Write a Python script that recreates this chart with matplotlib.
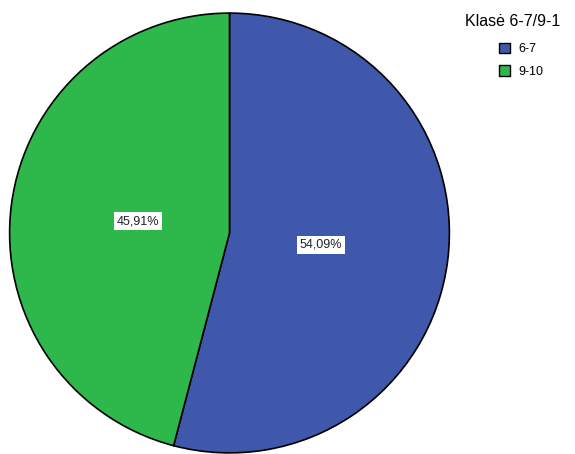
import matplotlib.pyplot as plt
from matplotlib.patches import Patch

plt.rcParams["font.family"] = ["Liberation Sans", "DejaVu Sans"]

labels = ["6-7", "9-10"]
shares = [54.09, 45.91]
colors = ["#3f58ab", "#2eb84b"]
legend_title = "Klasė 6-7/9-1"


def pct(v):
    return "{:.2f}%".format(v).replace(".", ",")


fig = plt.figure(figsize=(5.75, 4.54), dpi=100)
ax = fig.add_axes([8.5 / 575, 0.0 / 454, 442 / 575, 442 / 454])

wedges, texts, autotexts = ax.pie(
    shares,
    colors=colors,
    startangle=90,
    counterclock=False,
    autopct=pct,
    pctdistance=0.42,
    wedgeprops={"edgecolor": "black", "linewidth": 1.2},
    textprops={"fontsize": 9, "color": "#222222"},
)
for t in autotexts:
    t.set_bbox({"facecolor": "white", "edgecolor": "none", "pad": 2})
ax.set_xlim(-1.005, 1.005)
ax.set_ylim(-1.005, 1.005)
ax.set_aspect("equal")

fig.text(465 / 575, 1 - 22 / 454, legend_title, fontsize=11.5, va="center", ha="left")

handles = [Patch(facecolor=c, edgecolor="black", linewidth=1) for c in colors]
fig.legend(
    handles,
    labels,
    loc="upper left",
    bbox_to_anchor=(490 / 575, 1 - 34 / 454),
    frameon=False,
    fontsize=9,
    handlelength=0.9,
    handleheight=0.9,
    handletextpad=0.7,
    labelspacing=0.8,
    borderpad=0.2,
)

plt.savefig("out.png", dpi=100)
